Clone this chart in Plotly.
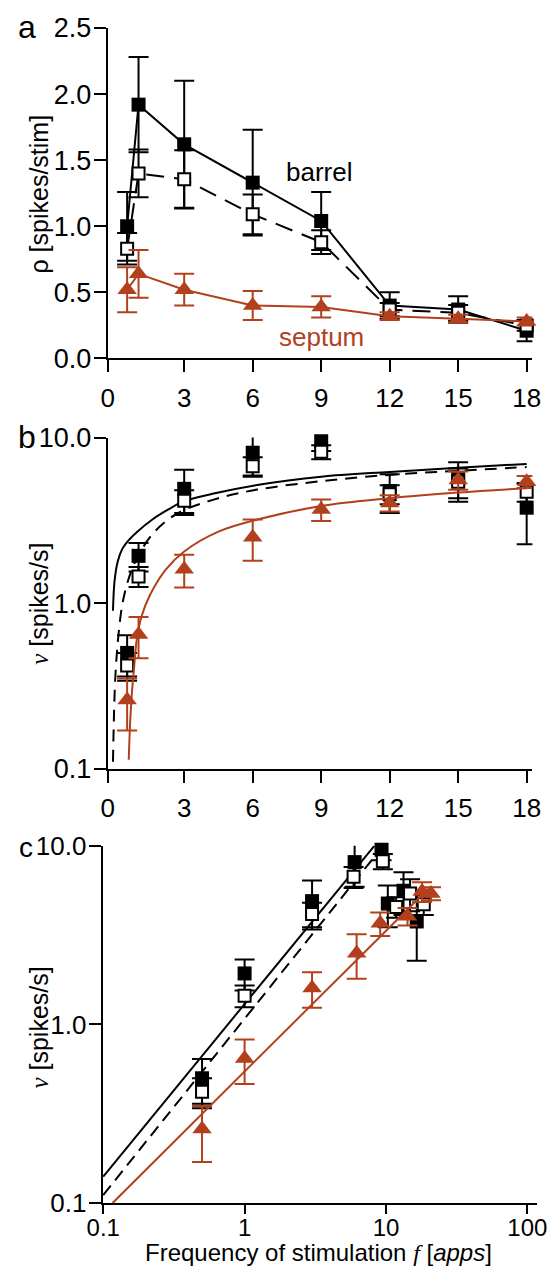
import plotly.graph_objects as go

W, H = 556, 1280
BLACK = "#000000"
RED = "#B2401C"
FONT = "Liberation Sans"

# ---------------- data ----------------
freq = [0.5, 1, 3, 6, 9, 12, 15, 18]
x_ticks_lin = [3, 6, 9, 12, 15, 18]
x_ticktext_lin = ["0", "3", "6", "9", "12", "15", "18"]

# panel a: rho [spikes/stim]
rho_barrel_all = [1.00, 1.92, 1.62, 1.33, 1.04, 0.40, 0.37, 0.21]
rho_barrel_all_err = [0.26, 0.36, 0.48, 0.40, 0.22, 0.10, 0.10, 0.08]
rho_barrel_open = [0.83, 1.40, 1.355, 1.09, 0.88, 0.37, 0.345, 0.25]
rho_barrel_open_err = [0.12, 0.18, 0.22, 0.15, 0.09, 0.05, 0.06, 0.04]
rho_septum = [0.52, 0.64, 0.52, 0.40, 0.39, 0.32, 0.30, 0.28]
rho_septum_err = [0.17, 0.18, 0.12, 0.11, 0.08, 0.03, 0.03, 0.03]

# panels b, c: v [spikes/s]
v_barrel_all = [0.50, 1.93, 4.90, 8.10, 9.50, 4.75, 5.60, 3.77]
v_barrel_all_err = [0.14, 0.38, 1.50, 2.20, 1.20, 1.25, 1.50, 1.50]
v_barrel_open = [0.42, 1.45, 4.15, 6.70, 8.20, 4.55, 5.40, 4.70]
v_barrel_open_err = [0.08, 0.20, 0.65, 0.90, 0.80, 0.60, 1.10, 0.60]
v_septum = [0.26, 0.645, 1.60, 2.50, 3.68, 4.03, 5.54, 5.40]
v_septum_err = [0.09, 0.18, 0.36, 0.70, 0.55, 0.45, 0.70, 0.45]

# panel c: actual frequency of stimulation [apps]
apps_barrel_all = [0.5, 1, 3, 6, 9.3, 10.3, 13.3, 16.5]
apps_barrel_open = [0.5, 1, 3, 5.9, 9.5, 11.8, 14.8, 18.5]
apps_septum = [0.5, 1, 3, 6.2, 9.1, 14.2, 18.0, 20.8]

# fitted curves, panel b
fit_b_solid_f = [-0.12, -0.05, 0.09, 0.3, 0.57, 0.92, 1.62, 2.31, 2.94, 4.4, 6.2, 9.0, 12.0, 15.0, 18.0]
fit_b_solid_v = [0.9, 1.36, 1.79, 2.14, 2.4, 2.68, 3.21, 3.68, 4.1, 4.62, 5.17, 5.8, 6.2, 6.58, 6.93]
fit_b_dash_f = [-0.12, -0.08, -0.02, 0.1, 0.3, 0.6, 1.0, 1.6, 2.3, 3.0, 4.5, 6.2, 9.0, 12.0, 15.0, 18.0]
fit_b_dash_v = [0.11, 0.2, 0.35, 0.6, 1.0, 1.45, 1.95, 2.6, 3.2, 3.65, 4.3, 4.85, 5.45, 5.95, 6.3, 6.63]
fit_b_red_f = [0.57, 0.64, 0.72, 0.8, 0.92, 1.13, 1.5, 2.2, 3.0, 4.5, 6.3, 9.0, 12.0, 15.0, 18.0]
fit_b_red_v = [0.113, 0.2, 0.3, 0.4, 0.6, 0.83, 1.12, 1.6, 2.05, 2.7, 3.22, 3.86, 4.3, 4.65, 4.94]

# fitted lines, panel c (log-log)
fit_c_solid_f = [0.1, 8.27]
fit_c_solid_v = [0.141, 10.0]
fit_c_dash_f = [0.1, 8.5]
fit_c_dash_v = [0.111, 8.9]
fit_c_red_f = [0.116, 20.0]
fit_c_red_v = [0.1, 5.77]

# ---------------- geometry (px) ----------------
def xd(a, b):
    return [a / W, b / W]

def yd(top, bottom):
    return [1 - bottom / H, 1 - top / H]

XR_LIN = [-0.351, 18.25]

fig = go.Figure()

def add_points(xs, ys, errs, xa, ya, kind):
    if kind == "filled":
        m = dict(symbol="square", size=14, color=BLACK, line=dict(width=0))
        col = BLACK
    elif kind == "open":
        m = dict(symbol="square", size=12, color="white", line=dict(width=2, color=BLACK))
        col = BLACK
    else:
        m = dict(symbol="triangle-up", size=17, color=RED, line=dict(width=0))
        col = RED
    fig.add_trace(go.Scatter(
        x=xs, y=ys, mode="markers", marker=m, xaxis=xa, yaxis=ya,
        error_y=dict(type="data", array=errs, visible=True, color=col, thickness=2, width=10),
        showlegend=False, cliponaxis=False, hoverinfo="skip"))

def add_line(xs, ys, xa, ya, color, dash="solid", shape="linear"):
    fig.add_trace(go.Scatter(x=xs, y=ys, mode="lines", xaxis=xa, yaxis=ya,
                             line=dict(color=color, width=2, dash=dash, shape=shape),
                             showlegend=False, hoverinfo="skip"))

# panel a
add_line(freq, rho_barrel_all, "x", "y", BLACK)
add_line(freq, rho_barrel_open, "x", "y", BLACK, dash="18px,10px")
add_points(freq, rho_barrel_all, rho_barrel_all_err, "x", "y", "filled")
add_points(freq, rho_barrel_open, rho_barrel_open_err, "x", "y", "open")
add_line(freq, rho_septum, "x", "y", RED)
add_points(freq, rho_septum, rho_septum_err, "x", "y", "tri")

# panel b
add_line(fit_b_solid_f, fit_b_solid_v, "x2", "y2", BLACK, shape="spline")
add_line(fit_b_dash_f, fit_b_dash_v, "x2", "y2", BLACK, dash="12px,8px", shape="spline")
add_points(freq, v_barrel_all, v_barrel_all_err, "x2", "y2", "filled")
add_points(freq, v_barrel_open, v_barrel_open_err, "x2", "y2", "open")
add_line(fit_b_red_f, fit_b_red_v, "x2", "y2", RED, shape="spline")
add_points(freq, v_septum, v_septum_err, "x2", "y2", "tri")

# panel c
add_line(fit_c_solid_f, fit_c_solid_v, "x3", "y3", BLACK)
add_line(fit_c_dash_f, fit_c_dash_v, "x3", "y3", BLACK, dash="12px,7px")
add_points(apps_barrel_all, v_barrel_all, v_barrel_all_err, "x3", "y3", "filled")
add_points(apps_barrel_open, v_barrel_open, v_barrel_open_err, "x3", "y3", "open")
add_line(fit_c_red_f, fit_c_red_v, "x3", "y3", RED)
add_points(apps_septum, v_septum, v_septum_err, "x3", "y3", "tri")

def axis_style(size=26, ticklen=12, standoff=0):
    return dict(showline=True, linewidth=2, linecolor=BLACK, ticks="outside", ticklen=ticklen,
                tickwidth=2, tickcolor=BLACK, showgrid=False, zeroline=False,
                tickfont=dict(family=FONT, size=size, color=BLACK), ticklabelstandoff=standoff)

fig.update_layout(
    width=W, height=H, margin=dict(l=0, r=0, t=0, b=0),
    paper_bgcolor="white", plot_bgcolor="white",
    xaxis=dict(domain=xd(96.2, 541.7), anchor="y", range=XR_LIN,
               tickvals=[XR_LIN[0]] + x_ticks_lin, ticktext=x_ticktext_lin, **axis_style(standoff=3)),
    yaxis=dict(domain=yd(13.3, 351.7), anchor="x", range=[0, 2.5], tickvals=[0, 0.5, 1, 1.5, 2, 2.5],
               ticktext=["0.0", "0.5", "1.0", "1.5", "2.0", "2.5"], **axis_style(size=27, standoff=-3)),
    xaxis2=dict(domain=xd(96.2, 541.7), anchor="y2", range=XR_LIN,
                tickvals=[XR_LIN[0]] + x_ticks_lin, ticktext=x_ticktext_lin, **axis_style(standoff=3)),
    yaxis2=dict(domain=yd(432.7, 771.7), anchor="x2", type="log", range=[-1, 1],
                tickvals=[0.1, 1, 10], ticktext=["0.1", "1.0", "10.0"], **axis_style(size=27, standoff=-3)),
    xaxis3=dict(domain=xd(90.9, 547), anchor="y3", type="log", range=[-1.004, 2.071],
                tickvals=[0.1, 1, 10, 100], ticktext=["0.1", "1", "10", "100"],
                **axis_style(size=24, ticklen=9, standoff=-7)),
    yaxis3=dict(domain=yd(850.7, 1216.7), anchor="x3", type="log", range=[-1, 1],
                tickvals=[0.1, 1, 10], ticktext=["0.1", "1.0", "10.0"], **axis_style(size=26, standoff=-3)),
)

serif_v = "<i><span style=\"font-family:'Liberation Serif'\">v</span></i>"
serif_f = "<i><span style=\"font-family:'Liberation Serif'\">f</span></i>"
ann = [
    dict(text="a", x=1 / W, y=1 - 12 / H, xanchor="left", yanchor="middle", font=dict(size=32)),
    dict(text="b", x=1 / W, y=1 - 432 / H, xanchor="left", yanchor="middle", font=dict(size=32)),
    dict(text="c", x=2 / W, y=1 - 852 / H, xanchor="left", yanchor="middle", font=dict(size=28)),
    dict(text="ρ [spikes/stim]", x=24 / W, y=1 - 183 / H, textangle=-90, xanchor="center",
         yanchor="middle", font=dict(size=25)),
    dict(text=serif_v + " [spikes/s]", x=24 / W, y=1 - 603 / H, textangle=-90, xanchor="center",
         yanchor="middle", font=dict(size=25)),
    dict(text=serif_v + " [spikes/s]", x=24 / W, y=1 - 1037 / H, textangle=-90, xanchor="center",
         yanchor="middle", font=dict(size=25)),
    dict(text="Frequency of stimulation " + serif_f + " [<i>apps</i>]", x=317 / W, y=1 - 1267 / H,
         xanchor="center", yanchor="middle", font=dict(size=24)),
    dict(text="barrel", x=318 / W, y=1 - 161 / H, xanchor="center", yanchor="middle", font=dict(size=26)),
    dict(text="septum", x=320 / W, y=1 - 330 / H, xanchor="center", yanchor="middle",
         font=dict(size=26, color=RED)),
]
for a in ann:
    a.update(xref="paper", yref="paper", showarrow=False, borderpad=0)
    f = a.get("font", {})
    f.setdefault("family", FONT)
    f.setdefault("color", BLACK)
    a["font"] = f
fig.update_layout(annotations=ann, hovermode=False)

fig.write_html("out.html", config={"displayModeBar": False, "staticPlot": True},
               post_script="document.body.style.margin='0px';"
                           "document.documentElement.style.overflow='hidden';")
